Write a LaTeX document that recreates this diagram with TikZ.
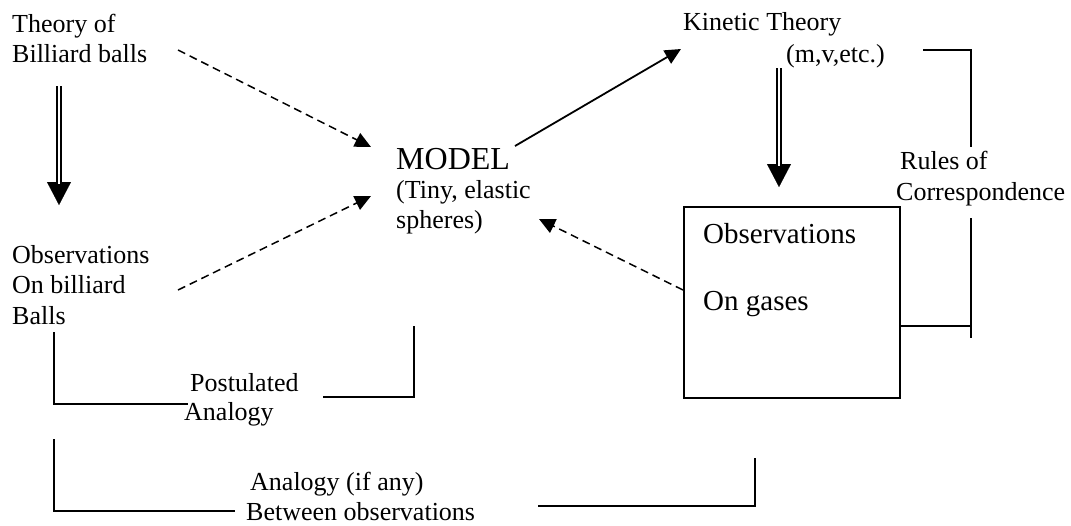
\documentclass[tikz,border=0pt]{standalone}
\usepackage{fontspec}
\setmainfont{Liberation Serif}
\usetikzlibrary{arrows.meta}
\begin{document}
\begin{tikzpicture}[x=1pt,y=-1pt,
  txt/.style={anchor=base west,inner sep=0pt,font=\fontsize{26}{30}\selectfont},
  bigtxt/.style={txt,font=\fontsize{32}{36}\selectfont},
  boxtxt/.style={txt,font=\fontsize{29}{33}\selectfont},
  bracket/.style={line width=2pt},
  tip/.style={-{Triangle[length=16pt,width=15pt]}},
  dasharrow/.style={tip,line width=1.5pt,dash pattern=on 8pt off 5pt},
  solidarrow/.style={tip,line width=1.8pt},
  headtip/.style={line width=0.1pt,-{Triangle[length=23pt,width=24pt]}},
  shaft/.style={line width=2.3pt,double,double distance=2pt,shorten >=21pt}]
\useasboundingbox (0,0) rectangle (1071,525);

% left column
\node[txt] (t1) at (12,32) {Theory of};
\node[txt] (t2) at (12,62) {Billiard balls};
\node[txt] (o1) at (12,263) {Observations};
\node[txt] (o2) at (12,293) {On billiard};
\node[txt] (o3) at (12,324) {Balls};

% model
\node[bigtxt] (m1) at (396,169) {MODEL};
\node[txt] (m2) at (396,198) {(Tiny, elastic};
\node[txt] (m3) at (396,228) {spheres)};

% kinetic theory
\node[txt] (k1) at (683,30) {Kinetic Theory};
\node[txt] (k2) at (786,62) {(m,v,etc.)};

% observations on gases
\node[draw,line width=2pt,inner sep=0pt,minimum width=216pt,minimum height=191pt,
  anchor=north west] (box) at (683,206) {};
\node[boxtxt] (b1) at (703,243) {Observations};
\node[boxtxt] (b2) at (703,310) {On gases};

% side labels
\node[txt] (r1) at (900,169) {Rules of};
\node[txt] (r2) at (896,200) {Correspondence};
\node[txt] (p1) at (190,391) {Postulated};
\node[txt] (p2) at (184,420) {Analogy};
\node[txt] (a1) at (250,490) {Analogy (if any)};
\node[txt] (a2) at (246,520) {Between observations};

% connector end points
\coordinate (tbOut) at (178,50);
\coordinate (obOut) at (178,290);
\coordinate (mIn1) at (371,147);
\coordinate (mIn2) at (371,196);
\coordinate (mIn3) at (539,219);
\coordinate (mOut) at (515,146);
\coordinate (kIn) at (681,49);
\coordinate (gOut) at (683,290);
\coordinate (tbDown) at (59,86);
\coordinate (obTop) at (59,205);
\coordinate (ktDown) at (779,68);
\coordinate (boxTop) at (779,187);

% dashed arrows into the model
\draw[dasharrow] (tbOut) -- (mIn1);
\draw[dasharrow] (obOut) -- (mIn2);
\draw[dasharrow] (gOut) -- (mIn3);

% model to kinetic theory
\draw[solidarrow] (mOut) -- (kIn);

% double arrows
\draw[headtip] (tbDown) -- (obTop);
\draw[shaft] (tbDown) -- (obTop);
\draw[headtip] (ktDown) -- (boxTop);
\draw[shaft] (ktDown) -- (boxTop);

% postulated analogy bracket
\draw[bracket] (54,332) -- (54,404) -- (188,404);
\draw[bracket] (323,397) -- (414,397) -- (414,326);

% analogy between observations bracket
\draw[bracket] (54,439) -- (54,511) -- (235,511);
\draw[bracket] (538,506) -- (755,506) -- (755,458);

% rules of correspondence bracket
\draw[bracket] (923,50) -- (971,50) -- (971,147);
\draw[bracket] (971,218) -- (971,338);
\draw[bracket] (box.east |- 0,326) -- (971,326);
\end{tikzpicture}
\end{document}
